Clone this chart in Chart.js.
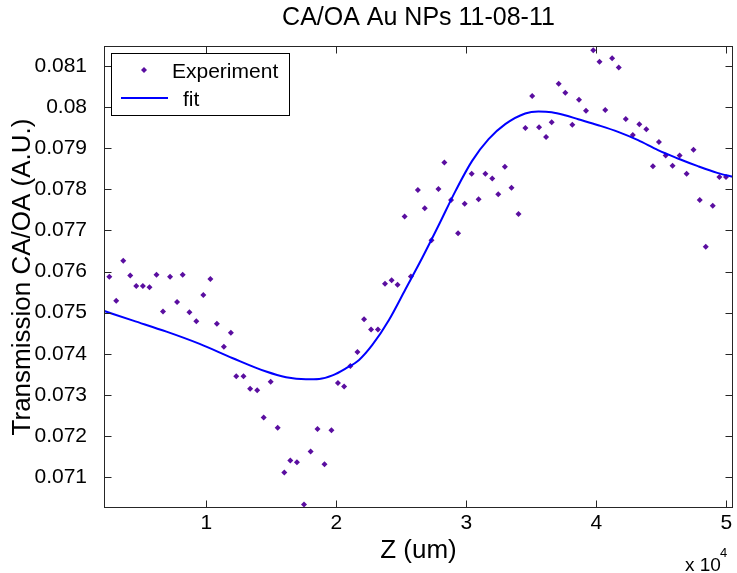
<!DOCTYPE html>
<html>
<head>
<meta charset="utf-8">
<script src="https://cdn.jsdelivr.net/npm/chart.js@4.4.1/dist/chart.umd.min.js"></script>
<style>
  html, body { margin: 0; padding: 0; background: #ffffff; }
  canvas { display: block; }
</style>
</head>
<body>
<canvas id="c" width="737" height="573"></canvas>
<script>
// ---- Data ----
const chartTitle = 'CA/OA Au NPs 11-08-11';
const xAxisTitle = 'Z (um)';
const yAxisTitle = 'Transmission CA/OA (A.U.)';
const seriesNames = ['Experiment', 'fit'];

const expZ = [2540, 3070, 3610, 4150, 4610, 5120, 5630, 6170, 6670, 7210,
  7750, 8180, 8700, 9230, 9770, 10310, 10810, 11350, 11890, 12300,
  12860, 13370, 13910, 14410, 14950, 15490, 16000, 16460, 16970, 17510,
  18020, 18550, 19090, 19620, 20120, 20600, 21080, 21620, 22130, 22670,
  23200, 23740, 24250, 24710, 25250, 25730, 26270, 26800, 27320, 27850,
  28310, 28820, 29360, 29870, 30410, 30940, 31460, 31990, 32450, 32960,
  33470, 34010, 34540, 35060, 35590, 36130, 36560, 37100, 37610, 38150,
  38660, 39200, 39760, 40240, 40680, 41210, 41720, 42260, 42800, 43300,
  43840, 44350, 44810, 45330, 45860, 46400, 46940, 47470, 47950, 48410,
  48950, 49460, 49970];
const expT = [0.07587, 0.07529, 0.07626, 0.07590, 0.07565, 0.07565, 0.07562, 0.07592, 0.07503, 0.07587,
  0.07526, 0.07592, 0.07501, 0.07479, 0.07543, 0.07582, 0.07473, 0.07417, 0.07451, 0.07345,
  0.07345, 0.07315, 0.07311, 0.07245, 0.07332, 0.07220, 0.07111, 0.07140, 0.07136, 0.07033,
  0.07162, 0.07217, 0.07131, 0.07214, 0.07329, 0.07320, 0.07370, 0.07404, 0.07484, 0.07459,
  0.07459, 0.07570, 0.07579, 0.07568, 0.07734, 0.07588, 0.07798, 0.07754, 0.07676, 0.07801,
  0.07865, 0.07774, 0.07693, 0.07765, 0.07838, 0.07776, 0.07838, 0.07826, 0.07788, 0.07855,
  0.07804, 0.07740, 0.07949, 0.08027, 0.07951, 0.07927, 0.07963, 0.08057, 0.08035, 0.07957,
  0.08018, 0.07991, 0.08138, 0.08110, 0.07993, 0.08119, 0.08096, 0.07971, 0.07932, 0.07958,
  0.07946, 0.07856, 0.07915, 0.07882, 0.07857, 0.07882, 0.07838, 0.07896, 0.07774, 0.07660,
  0.07760, 0.07830, 0.07830];

const fitZ = [2050, 4375, 6935, 9487, 12038, 14598, 16130, 17663, 18682, 19701,
  20728, 21747, 22766, 24046, 25326, 26598, 27878, 29158, 30430, 31709,
  32989, 34522, 35541, 36560, 37587, 38606, 40139, 41671, 43204, 44737,
  46269, 47802, 49295, 50484];
const fitT = [0.07505, 0.074805, 0.074537, 0.074239, 0.073891, 0.073566, 0.07343, 0.073381, 0.073388, 0.073473,
  0.073643, 0.07385, 0.074214, 0.074822, 0.075575, 0.076328, 0.07713, 0.077956, 0.078685, 0.079219,
  0.079584, 0.079844, 0.079892, 0.079875, 0.079802, 0.079705, 0.079559, 0.079397, 0.079195, 0.078952,
  0.07875, 0.078563, 0.0784, 0.078303];

const xTickValues = [10000, 20000, 30000, 40000, 50000];
const xTickLabels = ['1', '2', '3', '4', '5'];
const yTickValues = [0.071, 0.072, 0.073, 0.074, 0.075, 0.076, 0.077, 0.078, 0.079, 0.080, 0.081];
const yTickLabels = ['0.071', '0.072', '0.073', '0.074', '0.075', '0.076', '0.077', '0.078', '0.079', '0.08', '0.081'];
const xRange = [2130, 50506];
const yRange = [0.070247, 0.081486];
const xExponentLabel = ['x 10', '4'];

// ---- Styles ----
const FONT = "'Liberation Sans', Arial, Helvetica, sans-serif";
const expColor = '#5a0ea0';
const fitColor = '#0000ff';
const frameColor = '#262626';

const expPoints = expZ.map((z, i) => ({ x: z, y: expT[i] }));
const fitPoints = fitZ.map((z, i) => ({ x: z, y: fitT[i] }));

const matlabPlugin = {
  id: 'matlabFrame',
  afterDatasetsDraw(chart) {
    const ctx = chart.ctx;
    const a = chart.chartArea;
    const xs = chart.scales.x, ys = chart.scales.y;
    const L = Math.round(a.left) + 0.5, R = Math.round(a.right) - 0.5;
    const T = Math.round(a.top) + 0.5, B = Math.round(a.bottom) - 0.5;
    ctx.save();
    ctx.strokeStyle = frameColor;
    ctx.lineWidth = 1;
    ctx.strokeRect(L, T, R - L, B - T);
    const tl = 7;
    ctx.beginPath();
    xTickValues.forEach(v => {
      const px = Math.round(xs.getPixelForValue(v)) + 0.5;
      ctx.moveTo(px, B); ctx.lineTo(px, B - tl);
      ctx.moveTo(px, T); ctx.lineTo(px, T + tl);
    });
    yTickValues.forEach(v => {
      const py = Math.round(ys.getPixelForValue(v)) + 0.5;
      ctx.moveTo(L, py); ctx.lineTo(L + tl, py);
      ctx.moveTo(R, py); ctx.lineTo(R - tl, py);
    });
    ctx.stroke();

    // title (centred over the plot box)
    ctx.fillStyle = '#000000';
    ctx.font = '25px ' + FONT;
    ctx.textAlign = 'center';
    ctx.textBaseline = 'middle';
    ctx.fillText(chartTitle, (a.left + a.right) / 2, 18);

    // legend
    ctx.fillStyle = '#ffffff';
    ctx.fillRect(111.5, 53.5, 178, 62);
    ctx.strokeStyle = '#000000';
    ctx.strokeRect(111.5, 53.5, 178, 62);
    ctx.fillStyle = expColor;
    ctx.beginPath();
    const mx = 144, my = 70, mr = 3;
    ctx.moveTo(mx, my - mr); ctx.lineTo(mx + mr, my); ctx.lineTo(mx, my + mr); ctx.lineTo(mx - mr, my);
    ctx.closePath(); ctx.fill();
    ctx.strokeStyle = fitColor;
    ctx.lineWidth = 2;
    ctx.beginPath(); ctx.moveTo(121, 98); ctx.lineTo(168, 98); ctx.stroke();
    ctx.fillStyle = '#000000';
    ctx.font = '21px ' + FONT;
    ctx.textBaseline = 'middle';
    ctx.textAlign = 'left';
    ctx.fillText(seriesNames[0], 172, 72);
    ctx.fillText(seriesNames[1], 183, 100);

    // exponent label
    ctx.font = '19px ' + FONT;
    ctx.textBaseline = 'alphabetic';
    ctx.fillText(xExponentLabel[0], 685, 571);
    ctx.font = '13px ' + FONT;
    ctx.fillText(xExponentLabel[1], 720, 557);
    ctx.restore();
  }
};

new Chart(document.getElementById('c'), {
  type: 'scatter',
  data: {
    datasets: [
      {
        label: seriesNames[0],
        data: expPoints,
        pointStyle: 'rectRot',
        pointRadius: 3,
        pointBorderWidth: 0,
        backgroundColor: expColor,
        borderColor: expColor,
        showLine: false,
        order: 2
      },
      {
        label: seriesNames[1],
        data: fitPoints,
        showLine: true,
        pointRadius: 0,
        borderColor: fitColor,
        borderWidth: 2,
        cubicInterpolationMode: 'monotone',
        fill: false,
        order: 1
      }
    ]
  },
  options: {
    responsive: false,
    devicePixelRatio: 1,
    animation: false,
    layout: { padding: { left: 0, right: 2, top: 46, bottom: 0 } },
    plugins: {
      legend: { display: false },
      tooltip: { enabled: false },
      title: { display: false }
    },
    scales: {
      x: {
        type: 'linear',
        min: xRange[0],
        max: xRange[1],
        grid: { display: false, drawTicks: false },
        border: { display: false },
        afterBuildTicks: s => { s.ticks = xTickValues.map(v => ({ value: v })); },
        afterFit: s => { s.height = 65; },
        ticks: {
          autoSkip: false,
          maxRotation: 0,
          padding: 3,
          color: '#000000',
          font: { family: FONT, size: 21 },
          callback: (v) => xTickLabels[xTickValues.indexOf(v)]
        },
        title: {
          display: true,
          text: xAxisTitle,
          color: '#000000',
          font: { family: FONT, size: 26 },
          padding: { top: 0, bottom: 7 }
        }
      },
      y: {
        type: 'linear',
        min: yRange[0],
        max: yRange[1],
        grid: { display: false, drawTicks: false },
        border: { display: false },
        afterBuildTicks: s => { s.ticks = yTickValues.map(v => ({ value: v })); },
        afterFit: s => { s.width = 104; },
        ticks: {
          autoSkip: false,
          padding: 17,
          color: '#000000',
          font: { family: FONT, size: 21 },
          callback: (v) => {
            const i = yTickValues.findIndex(t => Math.abs(t - v) < 1e-9);
            return i >= 0 ? yTickLabels[i] : '';
          }
        },
        title: {
          display: true,
          text: yAxisTitle,
          color: '#000000',
          font: { family: FONT, size: 26 },
          padding: { top: 7, bottom: 0 }
        }
      }
    }
  },
  plugins: [matlabPlugin]
});
</script>
</body>
</html>
